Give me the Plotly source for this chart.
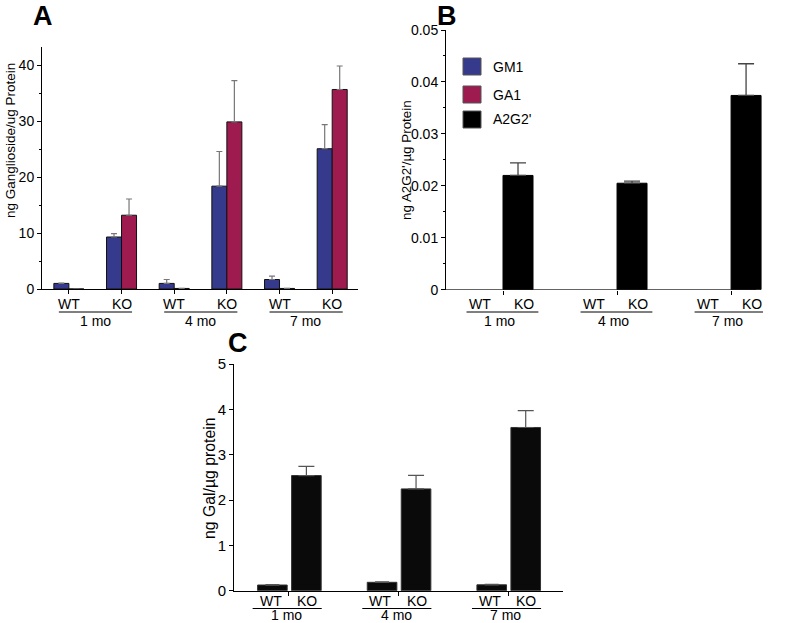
import plotly.graph_objects as go

W, H = 790, 623
def px(x): return x / W
def py(y): return 1 - y / H

FONT = "Liberation Sans, Arial, sans-serif"

# ---------------- data ----------------
# Panel A: ganglioside (6 categories: WT/KO at 1, 4, 7 mo)
A_cats = ["WT", "KO", "WT", "KO", "WT", "KO"]
A_months = ["1 mo", "4 mo", "7 mo"]
GM1 = [1.0, 9.3, 1.0, 18.4, 1.7, 25.1]
GM1_err = [0.05, 0.6, 0.7, 6.2, 0.6, 4.3]
GA1 = [0.0, 13.2, 0.1, 29.9, 0.1, 35.7]
GA1_err = [0.0, 2.9, 0.0, 7.4, 0.0, 4.2]
A_ticks = [0, 10, 20, 30, 40]

# Panel B: A2G2'
B_months = ["1 mo", "4 mo", "7 mo"]
A2G2_WT = [0.0, 0.0, 0.0]
A2G2_KO = [0.022, 0.0205, 0.0374]
A2G2_KO_err = [0.0024, 0.0004, 0.0061]
B_ticks = [0, 0.01, 0.02, 0.03, 0.04, 0.05]
B_ticklabels = ["0", "0.01", "0.02", "0.03", "0.04", "0.05"]

# Panel C: Gal
C_months = ["1 mo", "4 mo", "7 mo"]
Gal_WT = [0.125, 0.185, 0.13]
Gal_WT_err = [0.01, 0.012, 0.01]
Gal_KO = [2.54, 2.245, 3.6]
Gal_KO_err = [0.2, 0.3, 0.37]
C_ticks = [0, 1, 2, 3, 4, 5]

legend_names = ["GM1", "GA1", "A2G2'"]

# ---------------- styles ----------------
C_GM1 = "#363a8c"
C_GA1 = "#9e1b50"
C_BLK = "#0a0a0a"

fig = go.Figure()

xA = list(range(len(GM1)))
fig.add_trace(go.Bar(x=xA, y=GM1, offset=-0.285, width=0.285, marker=dict(color=C_GM1, line=dict(color="#111", width=1)),
                     error_y=dict(type="data", array=GM1_err, arrayminus=[0]*6, symmetric=False, color="#777", thickness=1.2, width=3),
                     xaxis="x", yaxis="y", showlegend=False, name="GM1"))
fig.add_trace(go.Bar(x=xA, y=GA1, offset=0, width=0.285, marker=dict(color=C_GA1, line=dict(color="#111", width=1)),
                     error_y=dict(type="data", array=GA1_err, arrayminus=[0]*6, symmetric=False, color="#777", thickness=1.2, width=3),
                     xaxis="x", yaxis="y", showlegend=False, name="GA1"))

xB = list(range(len(A2G2_KO)))
fig.add_trace(go.Bar(x=xB, y=A2G2_KO, offset=0, width=0.263, marker=dict(color="#000", line=dict(color="#000", width=1)),
                     error_y=dict(type="data", array=A2G2_KO_err, arrayminus=[0]*3, symmetric=False, color="#444", thickness=1.3, width=8),
                     xaxis="x2", yaxis="y2", showlegend=False, name="A2G2' KO"))

xC = list(range(len(Gal_KO)))
fig.add_trace(go.Bar(x=xC, y=Gal_WT, offset=-0.285, width=0.27, marker=dict(color=C_BLK, line=dict(color="#333", width=1)),
                     error_y=dict(type="data", array=Gal_WT_err, arrayminus=[0]*3, symmetric=False, color="#555", thickness=1.2, width=7),
                     xaxis="x3", yaxis="y3", showlegend=False, name="WT"))
fig.add_trace(go.Bar(x=xC, y=Gal_KO, offset=0.025, width=0.27, marker=dict(color=C_BLK, line=dict(color="#333", width=1)),
                     error_y=dict(type="data", array=Gal_KO_err, arrayminus=[0]*3, symmetric=False, color="#555", thickness=1.2, width=8),
                     xaxis="x3", yaxis="y3", showlegend=False, name="KO"))

axis_common = dict(showgrid=False, zeroline=False, linecolor="#000", linewidth=1, tickcolor="#000",
                   ticks="outside", ticklen=4, tickwidth=1, automargin=False)

fig.update_layout(
    width=W, height=H, margin=dict(l=0, r=0, t=0, b=0, autoexpand=False),
    paper_bgcolor="white", plot_bgcolor="white", barmode="overlay",
    font=dict(family=FONT, color="#000"),
    xaxis=dict(domain=[px(42), px(358)], range=[-0.51, 5.49], showline=True, tickvals=xA, showticklabels=False,
               anchor="y", **axis_common),
    yaxis=dict(domain=[py(289), py(47)], range=[0, 43.3], showline=True, tickvals=A_ticks, tickfont=dict(size=14),
               minor=dict(ticks="outside", ticklen=2, dtick=5, tickcolor="#000"), anchor="x", **axis_common),
    xaxis2=dict(domain=[px(446), px(763)], range=[-0.5, 2.28], showline=False, tickvals=xB, showticklabels=False,
                anchor="y2", **axis_common),
    yaxis2=dict(domain=[py(289.7), py(30)], range=[0, 0.05], showline=True, tickvals=B_ticks, ticktext=B_ticklabels,
                tickfont=dict(size=14), minor=dict(ticks="outside", ticklen=2, dtick=0.005, tickcolor="#000"),
                anchor="x2", **axis_common),
    xaxis3=dict(domain=[px(234), px(563)], range=[-0.5, 2.5], showline=True, tickvals=xC, showticklabels=False,
                anchor="y3", **axis_common),
    yaxis3=dict(domain=[py(590.7), py(364)], range=[0, 5], showline=True, tickvals=C_ticks, tickfont=dict(size=15),
                anchor="x3", **axis_common),
)

shapes = []
ann = []

# B x-axis line (shorter than plot area)
shapes.append(dict(type="line", xref="x2", yref="y2", x0=-0.5, x1=2.22, y0=0, y1=0, line=dict(color="#000", width=1)))

def txt(x, y, s, size, xref="paper", **kw):
    d = dict(x=x, y=y, xref=xref, yref="paper", text=s, showarrow=False,
             font=dict(size=size, family=FONT, color="#000"), xanchor="center", yanchor="middle")
    d.update(kw)
    ann.append(d)

# Panel A group labels
for g, m in enumerate(A_months):
    txt(2*g, py(304), A_cats[2*g], 14, xref="x")
    txt(2*g+1, py(304), A_cats[2*g+1], 14, xref="x")
    shapes.append(dict(type="line", xref="x", yref="paper", x0=2*g-0.19, x1=2*g+1.2, y0=py(312), y1=py(312),
                       line=dict(color="#000", width=1)))
    txt(2*g+0.5, py(321), m, 14, xref="x")

# Panel B group labels
for g, m in enumerate(B_months):
    txt(g-0.2, py(304), "WT", 14, xref="x2")
    txt(g+0.18, py(304), "KO", 14, xref="x2")
    shapes.append(dict(type="line", xref="x2", yref="paper", x0=g-0.32, x1=g+0.31, y0=py(312), y1=py(312),
                       line=dict(color="#000", width=1)))
    txt(g-0.03, py(320.5), m, 14, xref="x2")

# Panel C group labels
for g, m in enumerate(C_months):
    txt(g-0.165, py(601), "WT", 14, xref="x3")
    txt(g+0.165, py(601), "KO", 14, xref="x3")
    shapes.append(dict(type="line", xref="x3", yref="paper", x0=g-0.33, x1=g+0.3, y0=py(608.5), y1=py(608.5),
                       line=dict(color="#000", width=1)))
    txt(g-0.02, py(614.5), m, 14, xref="x3")

# Axis titles
txt(px(10), py(141), "ng Ganglioside/ug Protein", 13.5, textangle=-90)
txt(px(407), py(160), "ng A2G2'/µg Protein", 13.4, textangle=-90)
txt(px(209), py(478), "ng Gal/µg protein", 15.8, textangle=-90)

# Panel letters
ann.append(dict(x=px(43), y=1, xref="paper", yref="paper", text="<b>A</b>", showarrow=False, borderpad=0,
                font=dict(size=27, family=FONT, color="#000"), xanchor="center", yanchor="top"))
ann.append(dict(x=px(447), y=1, xref="paper", yref="paper", text="<b>B</b>", showarrow=False, borderpad=0,
                font=dict(size=27, family=FONT, color="#000"), xanchor="center", yanchor="top"))
ann.append(dict(x=px(238), y=py(343), xref="paper", yref="paper", text="<b>C</b>", showarrow=False,
                font=dict(size=27, family=FONT, color="#000"), xanchor="center", yanchor="middle"))

# Legend (drawn in panel B)
leg_colors = [C_GM1, C_GA1, "#000"]
leg_y = [(58, 75), (86, 103), (111, 128)]
for name, col, (y0, y1) in zip(legend_names, leg_colors, leg_y):
    shapes.append(dict(type="rect", xref="paper", yref="paper", x0=px(463), x1=px(481), y0=py(y1), y1=py(y0),
                       fillcolor=col, line=dict(color="#555", width=1)))
    txt(px(491), py((y0+y1)/2), name, 14, xanchor="left")

fig.update_layout(shapes=shapes, annotations=ann)
fig.write_html("out.html", config={"displayModeBar": False},
               post_script="document.body.style.margin='0';document.body.style.overflow='hidden';")
